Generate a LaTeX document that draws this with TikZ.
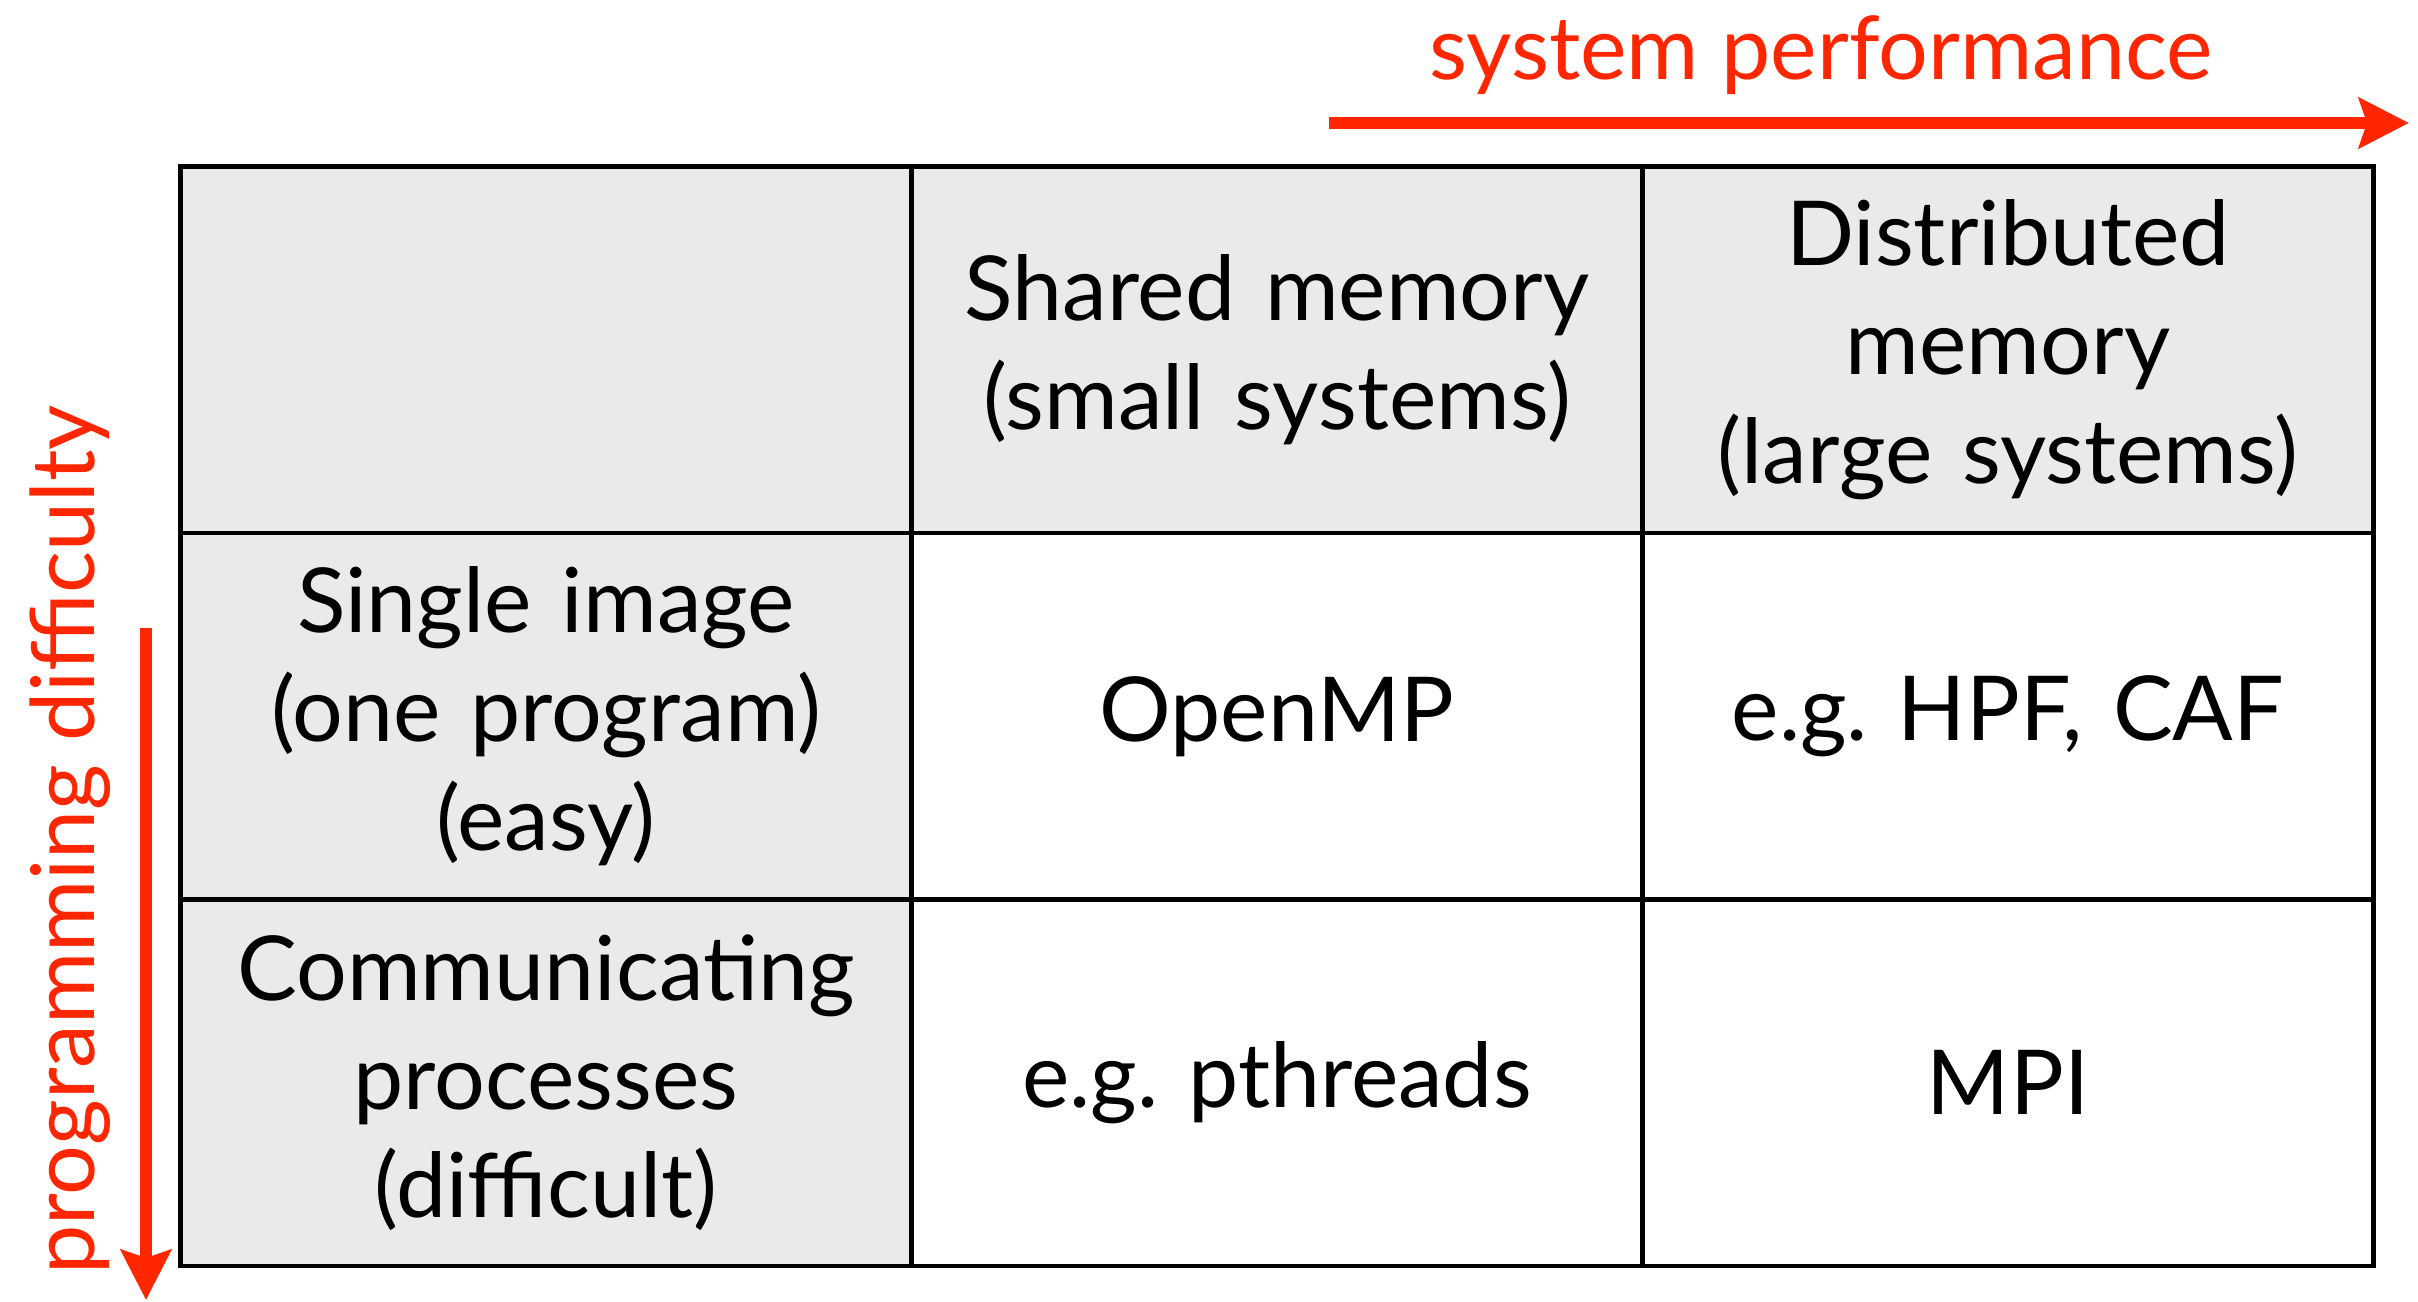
\documentclass[tikz,border=0pt]{standalone}
\usepackage{fontspec}
\setmainfont{Lato}
\usetikzlibrary{arrows.meta, positioning}
\definecolor{perfred}{RGB}{255,38,0}
\definecolor{cellgray}{RGB}{234,234,234}

\begin{document}
\begin{tikzpicture}[node distance = 0cm, thick]
    \tikzstyle{cell} = [rectangle, draw, fill=white, line width=1.4pt, minimum width=7.31cm, minimum height=3.665cm, text width=7cm, align=center, inner sep=0pt, outer sep=0pt, font=\fontsize{25.5}{31}\selectfont]
    \tikzstyle{head} = [cell, fill=cellgray]
    \tikzstyle{line} = [draw, -{Stealth[length=0.5cm, width=0.5cm, inset=0.08cm]}, line width=3.3pt, perfred]
    \tikzstyle{axislabel} = [text=perfred, font=\fontsize{25}{31}\selectfont]

    \useasboundingbox (0,0) rectangle (24.18,-13.02);

    % Nodes
    \node [head, anchor=north west] (corner) at (1.805,-1.665) {};
    \node [head, right=of corner] (shared) {Shared memory\\(small systems)};
    \node [head, right=of shared] (distributed) {Distributed\\memory\\(large systems)};
    \node [head, below=of corner] (single) {Single image\\(one program)\\(easy)};
    \node [cell, right=of single] (openmp) {OpenMP};
    \node [cell, right=of openmp] (hpf) {e.g.\ HPF, CAF};
    \node [head, below=of single] (comm) {Communicating\\processes\\(difficult)};
    \node [cell, right=of comm] (pthreads) {e.g.\ pthreads};
    \node [cell, right=of pthreads] (mpi) {MPI};

    % Axes
    \coordinate (perfstart) at (13.29,-1.23);
    \coordinate (perfend) at (24.09,-1.23);
    \coordinate (diffstart) at (1.46,-6.28);
    \coordinate (diffend) at (1.46,-13.0);
    \node [axislabel] (perf) at (18.21,-0.55) {system performance};
    \node [axislabel, rotate=90] (diff) at (0.70,-8.4) {programming difficulty};

    % Connections
    \path [line] (perfstart) -- (perfend);
    \path [line] (diffstart) -- (diffend);
\end{tikzpicture}
\end{document}
